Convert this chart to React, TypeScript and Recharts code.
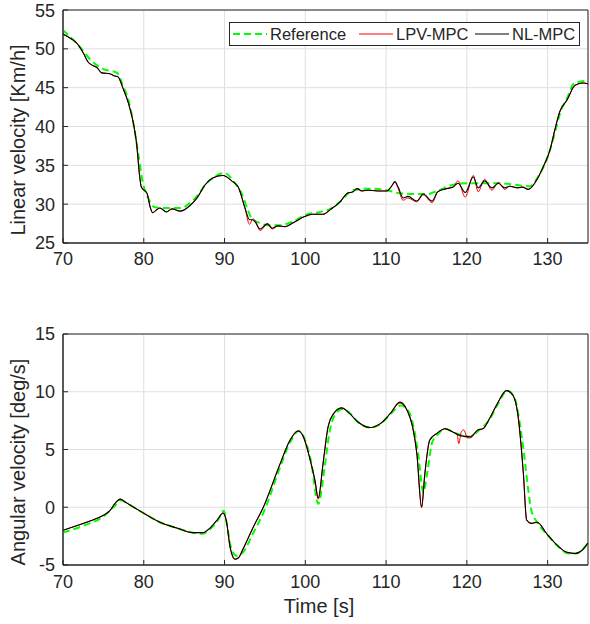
import React from 'react';
import { LineChart, Line, XAxis, YAxis, CartesianGrid, ReferenceArea } from 'recharts';

// ---- top plot: linear velocity [Km/h] ----
const refTopT = [70, 71.7, 73.7, 75, 76.7, 77.4, 78.1, 78.7, 79.3, 79.9, 80.5, 81.4, 82.8, 84.5, 86.1, 88.2, 90, 91.3, 92.2, 92.8, 93.4, 94.3, 95.3, 96.9, 98.5, 100, 101.8, 103.1, 104.3, 105.9, 108, 110.1, 111.7, 113.8, 115.1, 116.3, 118.3, 120, 122, 124, 126, 127.8, 128.8, 129.5, 130.3, 131, 131.6, 132.4, 133.3, 135];
const refTopV = [52.4, 50.7, 48.3, 47.4, 46.9, 45.3, 43.4, 40.5, 36.6, 32.7, 30.9, 29.6, 29.5, 29.5, 30.5, 33.1, 34.0, 32.7, 31.2, 29.5, 28.1, 27.6, 27.3, 27.3, 27.8, 28.6, 29.0, 29.4, 30.3, 31.8, 32.0, 31.8, 31.4, 31.3, 31.3, 31.7, 32.5, 32.7, 32.7, 32.7, 32.5, 32.3, 33.5, 34.8, 37.0, 39.6, 41.9, 43.6, 45.6, 45.9];

const nlTopT = [70, 71, 71.7, 72.5, 73.1, 73.6, 74.2, 74.8, 75.8, 76.4, 76.8, 77.4, 78.1, 78.7, 79.1, 79.5, 79.7, 80.4, 80.8, 81.1, 81.5, 82, 82.8, 83.5, 84.5, 85.7, 86.6, 87.6, 88.6, 89.8, 91, 91.7, 92.5, 93.1, 93.5, 93.8, 94.4, 95.3, 95.9, 96.6, 97.5, 98.5, 99.9, 100.9, 102.2, 103.1, 104.3, 105.2, 105.9, 106.4, 107, 107.8, 108.9, 110.1, 110.6, 111.1, 111.5, 112.1, 112.7, 113.8, 114.6, 115.7, 116.4, 117.5, 118.3, 118.9, 119.8, 120.8, 121.4, 122.2, 123.1, 123.9, 124.7, 125.3, 126.3, 126.9, 127.6, 128.8, 129.4, 130.3, 130.9, 131.5, 132.4, 133.4, 134.4, 135];
const nlTopV = [51.9, 51.3, 50.75, 49.5, 48.3, 47.9, 47.6, 46.9, 46.8, 46.5, 46.4, 45.0, 43.0, 40.5, 37.9, 33.5, 32.2, 31.4, 29.6, 28.9, 29.2, 29.5, 29.0, 29.4, 29.1, 29.8, 30.8, 32.5, 33.4, 33.7, 32.9, 32.2, 29.6, 28.0, 28.0, 27.7, 26.8, 27.5, 26.9, 27.2, 27.1, 27.6, 28.4, 28.7, 28.7, 29.3, 30.3, 31.4, 31.6, 32.0, 31.7, 31.8, 31.7, 31.7, 32.2, 32.9, 32.2, 30.8, 31.0, 30.4, 31.3, 30.4, 31.6, 32.0, 32.2, 32.7, 31.5, 33.5, 32.1, 33.0, 32.1, 32.7, 32.1, 32.3, 32.1, 32.2, 31.9, 33.4, 34.7, 37.0, 39.6, 41.9, 43.4, 45.3, 45.6, 45.5];

const lpvTopT = nlTopT;
const lpvTopV = [51.9, 51.3, 50.75, 49.5, 48.3, 47.9, 47.6, 46.9, 46.8, 46.5, 46.4, 45.0, 43.0, 40.5, 37.9, 33.5, 32.2, 31.4, 29.6, 28.9, 29.2, 29.5, 29.0, 29.4, 29.1, 29.8, 30.8, 32.5, 33.4, 33.7, 32.9, 32.2, 29.6, 27.4, 28.1, 27.9, 26.6, 27.4, 26.8, 27.2, 27.1, 27.6, 28.4, 28.7, 28.7, 29.3, 30.3, 31.4, 31.6, 32.0, 31.7, 31.8, 31.7, 31.7, 32.2, 32.8, 32.0, 30.5, 30.8, 30.3, 31.2, 30.2, 31.6, 32.0, 32.2, 33.0, 30.9, 33.7, 31.6, 33.2, 31.8, 32.8, 31.9, 32.3, 32.1, 32.2, 31.9, 33.4, 34.7, 37.0, 39.6, 41.9, 43.4, 45.3, 45.6, 45.5];

// ---- bottom plot: angular velocity [deg/s] ----
const refBotT = [70, 72.5, 75, 76.4, 77.2, 78, 80.2, 82, 84.1, 86.1, 87.3, 88.2, 89.2, 89.9, 90.3, 90.8, 91.5, 92.3, 93.5, 94.8, 96.9, 98.1, 99.2, 99.8, 100.7, 101.6, 102.4, 103, 103.6, 104.6, 105.6, 106.6, 108, 109.3, 110.6, 111.8, 112.7, 113.4, 114, 114.6, 115.1, 115.7, 116.4, 117.3, 118.3, 120.4, 121.4, 122.9, 123.9, 125, 125.9, 126.5, 127.1, 127.6, 128, 128.6, 130, 131.3, 132.5, 133.5, 134.4, 135];
const refBotV = [-2.2, -1.6, -0.8, 0.1, 0.6, 0.3, -0.6, -1.3, -1.8, -2.2, -2.3, -1.9, -1.1, -0.3, -1.5, -3.5, -4.2, -3.9, -2.3, -0.5, 3.5, 5.6, 6.6, 6.1, 4.0, 0.3, 3.5, 6.5, 7.9, 8.5, 8.1, 7.3, 6.9, 7.2, 8.1, 8.8, 8.4, 7.0, 4.5, 1.3, 3.0, 5.6, 6.3, 6.8, 6.5, 6.1, 6.6, 7.7, 9.0, 10.1, 9.5, 7.5, 4.5, 1.5, -0.3, -1.2, -2.4, -3.4, -4.0, -4.0, -3.6, -3.1];

const nlBotT = [70, 72.5, 73.7, 75, 75.8, 76.4, 77.1, 77.7, 79, 80.2, 82, 84.1, 86.1, 87.3, 88.2, 89.2, 89.8, 90.2, 90.7, 91.3, 91.7, 92.3, 93.1, 93.5, 94.8, 96.9, 98.1, 99.1, 99.7, 100.6, 101.2, 101.6, 102.2, 102.8, 103.4, 104.5, 105.5, 106.5, 108, 109.2, 110.5, 111.7, 112.6, 113.3, 113.8, 114.4, 114.8, 115.4, 116.3, 117.3, 118.3, 119.2, 120.4, 121.4, 122, 122.9, 123.8, 124.9, 125.7, 126.3, 127, 127.4, 128, 128.7, 129.9, 131.2, 132.4, 133.4, 134.3, 135];
const nlBotV = [-2.0, -1.4, -1.1, -0.7, -0.3, 0.3, 0.7, 0.45, -0.1, -0.6, -1.3, -1.8, -2.2, -2.2, -1.8, -1.0, -0.5, -1.1, -3.5, -4.5, -4.4, -3.6, -2.4, -1.8, 0.0, 3.8, 5.8, 6.6, 6.2, 4.1, 2.3, 0.8, 3.8, 6.9, 8.0, 8.6, 8.1, 7.4, 6.9, 7.2, 8.1, 9.1, 8.4, 6.9, 4.7, 0.0, 2.9, 5.8, 6.4, 6.8, 6.5, 6.2, 6.1, 6.7, 6.8, 7.8, 9.0, 10.1, 9.7, 8.1, 2.9, -1.1, -1.4, -1.3, -2.3, -3.3, -3.9, -4.0, -3.7, -3.1];

const lpvBotT = [70, 72.5, 73.7, 75, 75.8, 76.4, 77.1, 77.7, 79, 80.2, 82, 84.1, 86.1, 87.3, 88.2, 89.2, 89.8, 90.2, 90.7, 91.3, 91.7, 92.3, 93.1, 93.5, 94.8, 96.9, 98.1, 99.1, 99.7, 100.6, 101.2, 101.6, 102.2, 102.8, 103.4, 104.5, 105.5, 106.5, 108, 109.2, 110.5, 111.7, 112.6, 113.3, 113.8, 114.4, 114.8, 115.4, 116.3, 117.3, 118.3, 118.8, 119.0, 119.3, 119.6, 120.1, 120.4, 121.4, 122, 122.9, 123.8, 124.9, 125.7, 126.3, 127, 127.4, 128, 128.7, 129.9, 131.2, 132.4, 133.4, 134.3, 135];
const lpvBotV = [-2.0, -1.4, -1.1, -0.7, -0.3, 0.3, 0.7, 0.45, -0.1, -0.6, -1.3, -1.8, -2.2, -2.2, -1.8, -1.0, -0.5, -1.1, -3.5, -4.5, -4.4, -3.6, -2.4, -1.8, 0.0, 3.8, 5.8, 6.6, 6.2, 4.1, 2.3, 0.7, 3.8, 6.9, 8.0, 8.6, 8.1, 7.4, 6.9, 7.2, 8.1, 9.0, 8.4, 6.9, 4.7, 0.0, 2.9, 5.8, 6.4, 6.8, 6.5, 6.3, 5.5, 6.5, 6.7, 6.0, 6.0, 6.7, 6.8, 7.8, 9.0, 10.1, 9.7, 8.1, 2.9, -1.1, -1.4, -1.3, -2.3, -3.3, -3.9, -4.0, -3.7, -3.1];

const xTicks = [70, 80, 90, 100, 110, 120, 130];
const topYTicks = [25, 30, 35, 40, 45, 50, 55];
const botYTicks = [-5, 0, 5, 10, 15];
const seriesNames = ['Reference', 'LPV-MPC', 'NL-MPC'];

const zip = (t: number[], v: number[]) => t.map((x, i) => ({ t: x, v: v[i] }));

const FONT = '"Liberation Sans", Arial, sans-serif';
const INK = '#262626';
const GRID = '#dfdfdf';
const C_REF = '#00ff00';
const C_LPV = '#ff0000';
const C_NL = '#000000';

const tickStyle = { fill: INK, fontSize: 18, fontFamily: FONT };
const noTick = () => <g />;

function YLabel({ text, x, y }: { text: string; x: number; y: number }) {
  return (
    <text x={x} y={y} transform={`rotate(-90 ${x} ${y})`} textAnchor="middle"
      fill={INK} fontSize={20} fontFamily={FONT}>{text}</text>
  );
}

function LegendBox() {
  const styles = [
    { color: C_REF, dash: '7 4', w: 2, width: 126 },
    { color: C_LPV, dash: undefined, w: 1, width: 116 },
    { color: C_NL, dash: undefined, w: 1, width: 104 },
  ];
  return (
    <div style={{
      position: 'absolute', left: 229, top: 22, border: `1px solid ${INK}`, background: '#fff',
      height: 24, display: 'flex', alignItems: 'center', paddingLeft: 3, boxSizing: 'border-box',
      width: 351, fontFamily: FONT, fontSize: 16.5, color: INK, whiteSpace: 'nowrap',
    }}>
      {seriesNames.map((n, i) => (
        <div key={n} style={{ display: 'flex', alignItems: 'center', width: styles[i].width, flex: 'none' }}>
          <svg width={34} height={10} style={{ marginRight: 3, flex: 'none' }}>
            <line x1={0} y1={5} x2={34} y2={5} stroke={styles[i].color}
              strokeWidth={styles[i].w} strokeDasharray={styles[i].dash} />
          </svg>
          <span>{n}</span>
        </div>
      ))}
    </div>
  );
}

export default function App() {
  return (
    <div style={{ position: 'absolute', left: 0, top: 0, width: 590, height: 624, background: '#fff' }}>
      <div style={{ position: 'absolute', left: 0, top: 0 }}>
        <LineChart width={590} height={280} margin={{ top: 10, right: 2, bottom: 7, left: 0 }}>
          <CartesianGrid stroke={GRID} strokeWidth={1} />
          <XAxis type="number" dataKey="t" domain={[70, 135]} ticks={xTicks} allowDataOverflow
            height={30} tickLine={{ stroke: INK }} tickSize={-5} tickMargin={14} axisLine={{ stroke: INK }} tick={tickStyle} />
          <XAxis xAxisId="top" orientation="top" type="number" domain={[70, 135]} ticks={xTicks} allowDataOverflow
            height={0} tickLine={{ stroke: INK }} tickSize={-5} axisLine={false} tick={noTick} />
          <YAxis type="number" domain={[25, 55]} ticks={topYTicks} allowDataOverflow width={63}
            tickLine={{ stroke: INK }} tickSize={-5} tickMargin={13} axisLine={{ stroke: INK }} tick={tickStyle}
            label={{ content: () => <YLabel text="Linear velocity [Km/h]" x={25} y={140} /> }} />
          <YAxis yAxisId="right" orientation="right" type="number" domain={[25, 55]} ticks={topYTicks} allowDataOverflow
            width={0} tickLine={{ stroke: INK }} tickSize={-5} axisLine={false} tick={noTick} />
          <ReferenceArea x1={70} x2={135} y1={25} y2={55} fill="none" stroke={INK} strokeWidth={1} ifOverflow="visible" />
          <Line data={zip(refTopT, refTopV)} dataKey="v" name={seriesNames[0]} type="monotone" stroke={C_REF}
            strokeWidth={2} strokeDasharray="7 4" dot={false} isAnimationActive={false} />
          <Line data={zip(lpvTopT, lpvTopV)} dataKey="v" name={seriesNames[1]} type="monotone" stroke={C_LPV}
            strokeWidth={1} dot={false} isAnimationActive={false} />
          <Line data={zip(nlTopT, nlTopV)} dataKey="v" name={seriesNames[2]} type="monotone" stroke={C_NL}
            strokeWidth={1.1} dot={false} isAnimationActive={false} />
        </LineChart>
        <LegendBox />
      </div>
      <div style={{ position: 'absolute', left: 0, top: 300 }}>
        <LineChart width={590} height={324} margin={{ top: 34, right: 2, bottom: 0, left: 0 }}>
          <CartesianGrid stroke={GRID} strokeWidth={1} />
          <XAxis type="number" dataKey="t" domain={[70, 135]} ticks={xTicks} allowDataOverflow
            height={59} tickLine={{ stroke: INK }} tickSize={-5} tickMargin={15} axisLine={{ stroke: INK }} tick={tickStyle}
            label={{ content: () => (
              <text x={319} y={313} textAnchor="middle" fill={INK} fontSize={20} fontFamily={FONT}>Time [s]</text>
            ) }} />
          <XAxis xAxisId="top" orientation="top" type="number" domain={[70, 135]} ticks={xTicks} allowDataOverflow
            height={0} tickLine={{ stroke: INK }} tickSize={-5} axisLine={false} tick={noTick} />
          <YAxis type="number" domain={[-5, 15]} ticks={botYTicks} allowDataOverflow width={63}
            tickLine={{ stroke: INK }} tickSize={-5} tickMargin={13} axisLine={{ stroke: INK }} tick={tickStyle}
            label={{ content: () => <YLabel text="Angular velocity [deg/s]" x={25} y={162} /> }} />
          <YAxis yAxisId="right" orientation="right" type="number" domain={[-5, 15]} ticks={botYTicks} allowDataOverflow
            width={0} tickLine={{ stroke: INK }} tickSize={-5} axisLine={false} tick={noTick} />
          <ReferenceArea x1={70} x2={135} y1={-5} y2={15} fill="none" stroke={INK} strokeWidth={1} ifOverflow="visible" />
          <Line data={zip(refBotT, refBotV)} dataKey="v" name={seriesNames[0]} type="monotone" stroke={C_REF}
            strokeWidth={2} strokeDasharray="7 4" dot={false} isAnimationActive={false} />
          <Line data={zip(lpvBotT, lpvBotV)} dataKey="v" name={seriesNames[1]} type="monotone" stroke={C_LPV}
            strokeWidth={1} dot={false} isAnimationActive={false} />
          <Line data={zip(nlBotT, nlBotV)} dataKey="v" name={seriesNames[2]} type="monotone" stroke={C_NL}
            strokeWidth={1.1} dot={false} isAnimationActive={false} />
        </LineChart>
      </div>
    </div>
  );
}
